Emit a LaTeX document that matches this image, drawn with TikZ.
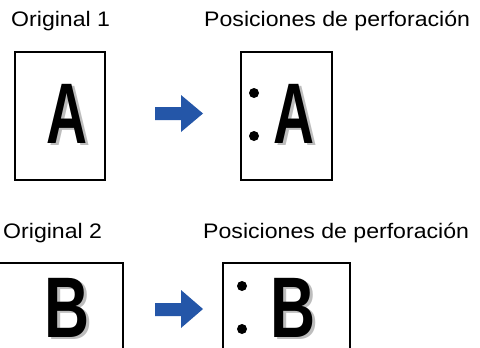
\documentclass[tikz,border=0pt]{standalone}
\usepackage{fontspec}
\setmainfont{Liberation Sans}
\definecolor{arrowblue}{HTML}{2456A8}
\definecolor{shadowgray}{HTML}{BDBDBD}
\tikzset{
  label/.style={anchor=base west, inner sep=0, font=\fontsize{21}{25}\selectfont, xscale=1.1},
  page/.style={draw=black, line width=1.8pt, inner sep=0, fill=none},
  bigletter/.style={inner sep=0, font=\fontsize{86}{90}\selectfont\bfseries, xscale=0.66},
  wideletter/.style={bigletter, xscale=1.1},
  shadowletter/.style={text=shadowgray},
  hole/.style={fill=black},
  bluearrow/.style={fill=arrowblue}
}
\begin{document}
\begin{tikzpicture}[x=1pt,y=-1pt]
\useasboundingbox (0,0) rectangle (480,348);
\clip (0,0) rectangle (480,348);
\fill[white] (0,0) rectangle (480,348);
% row 1
\node[label] (t1) at (11,27) {Original 1};
\node[label] (t2) at (204,27) {Posiciones de perforación};
\node[page, minimum width=90, minimum height=128] (p1) at (60,116) {};
\node[page, minimum width=91, minimum height=128] (p2) at (286.5,116) {};
\node[bigletter, shadowletter] (a1s) at (69.5,116) {A};
\node[bigletter] (a1) at (66.5,114) {A};
\node[bigletter, shadowletter] (a2s) at (297,116) {A};
\node[bigletter] (a2) at (294,114) {A};
\fill[hole] (254,93) circle (5);
\fill[hole] (254,136) circle (5);
\fill[bluearrow] (155,107) -- (181,107) -- (181,95) -- (203,113.5) -- (181,132) -- (181,120) -- (155,120) -- cycle;
% row 2
\node[label] (t3) at (3,238) {Original 2};
\node[label] (t4) at (203,238) {Posiciones de perforación};
\node[page, minimum width=130, minimum height=120] (p3) at (58,323) {};
\node[page, minimum width=127, minimum height=120] (p4) at (286.5,323) {};
\node[wideletter, shadowletter] (b1s) at (70,310) {B};
\node[wideletter] (b1) at (67,308) {B};
\node[wideletter, shadowletter] (b2s) at (296,310) {B};
\node[wideletter] (b2) at (293,308) {B};
\fill[hole] (242,286) circle (5);
\fill[hole] (242,329) circle (5);
\fill[bluearrow] (155,303) -- (181,303) -- (181,290) -- (203,309) -- (181,328) -- (181,316) -- (155,316) -- cycle;
\end{tikzpicture}
\end{document}
